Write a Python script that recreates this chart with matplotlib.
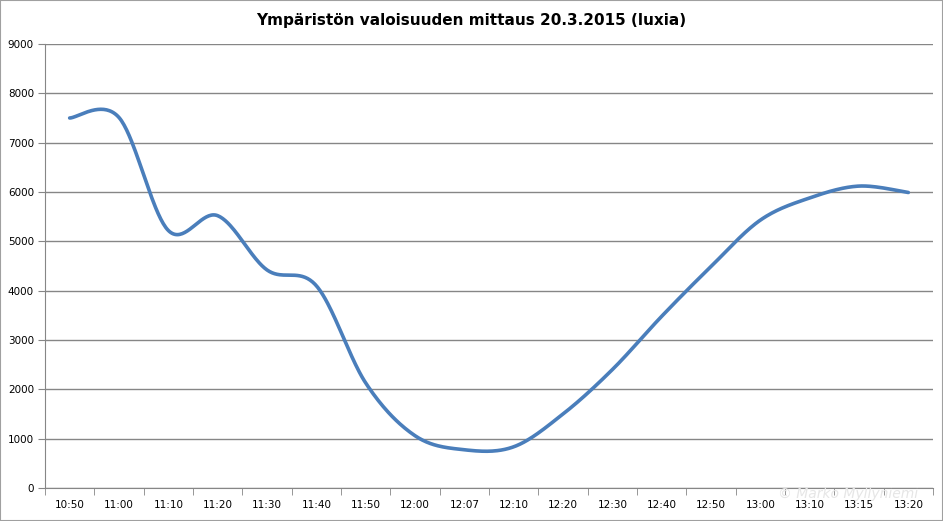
import numpy as np
import matplotlib
matplotlib.use('Agg')
import matplotlib.pyplot as plt
from matplotlib.patches import Rectangle

# ── Data ──────────────────────────────────────────────────────────────────
times = ['10:50', '11:00', '11:10', '11:20', '11:30', '11:40', '11:50', '12:00',
         '12:07', '12:10', '12:20', '12:30', '12:40', '12:50', '13:00', '13:10',
         '13:15', '13:20']
lux = [7500, 7510, 5220, 5520, 4420, 4100, 2130, 1060,
       775, 835, 1500, 2400, 3480, 4490, 5430, 5880,
       6120, 5990]
yticks = [0, 1000, 2000, 3000, 4000, 5000, 6000, 7000, 8000, 9000]


# ── Excel-style smoothing (Catmull-Rom as cubic Bezier) ──────────────────
def smooth(xs, ys, n=40):
    P = np.column_stack([xs, ys]).astype(float)
    P = np.vstack([P[0], P, P[-1]])
    out = []
    for i in range(1, len(P) - 2):
        p0, p3 = P[i], P[i + 1]
        c1 = p0 + (P[i + 1] - P[i - 1]) / 6.0
        c2 = p3 - (P[i + 2] - P[i]) / 6.0
        t = np.linspace(0, 1, n)[:, None]
        seg = ((1 - t)**3 * p0 + 3 * (1 - t)**2 * t * c1
               + 3 * (1 - t) * t**2 * c2 + t**3 * p3)
        out.append(seg if i == 1 else seg[1:])
    out = np.vstack(out)
    return out[:, 0], out[:, 1]


fig = plt.figure(figsize=(9.43, 5.21), dpi=100)
ax = fig.add_axes([45 / 943, 33 / 521, 888 / 943, 444 / 521])

x = np.arange(len(times))
sx, sy = smooth(x, lux)
ax.plot(sx, sy, color='#4a7ebb', lw=2.6, solid_capstyle='round', zorder=3)

ax.set_xlim(-0.5, len(times) - 0.5)
ax.set_ylim(0, 9000)
ax.set_yticks(yticks)
ax.set_yticklabels([str(v) for v in yticks], fontsize=7.5)
ax.yaxis.grid(True, color='#868686', lw=1.0)
ax.set_axisbelow(True)

ax.set_xticks(x)
ax.set_xticklabels(times, fontsize=7.5)
ax.set_xticks(np.arange(-0.5, len(times)), minor=True)
ax.tick_params(axis='x', which='major', length=0, pad=9)
ax.tick_params(axis='x', which='minor', length=5, color='#868686', direction='out')
ax.tick_params(axis='y', length=5, color='#868686', pad=3)

for s in ['top', 'right']:
    ax.spines[s].set_visible(False)
for s in ['left', 'bottom']:
    ax.spines[s].set_color('#868686')

fig.text(0.5, 1 - 20 / 521, 'Ympäristön valoisuuden mittaus 20.3.2015 (luxia)',
         ha='center', va='center', fontsize=11, fontweight='bold')

# faint watermark
fig.text(848 / 943, 1 - 494 / 521, '© Marko Myllyniemi', ha='center', va='center',
         fontsize=10, style='italic', color='#e6e6e6', zorder=0)

fig.patches.append(Rectangle((0, 0), 1, 1, transform=fig.transFigure,
                             fill=False, edgecolor='#a0a0a0', lw=1.5))

plt.savefig('out.png', dpi=100)
